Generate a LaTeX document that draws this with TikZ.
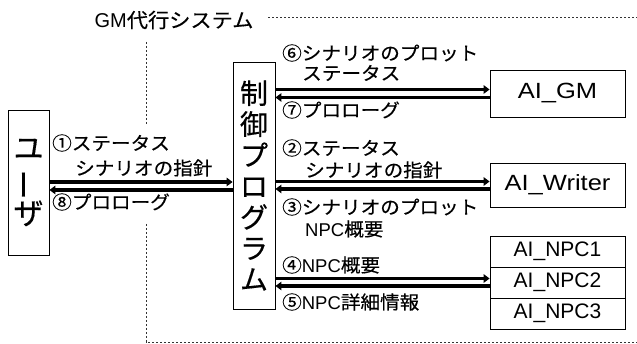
\documentclass[tikz,border=0pt]{standalone}
\usepackage{fontspec}
\usepackage{graphicx}
\setmainfont{Liberation Sans}
\newfontfamily\jp[FakeStretch=1.06,FakeBold=0.4]{Noto Sans CJK JP}
\newfontfamily\jpbig[FakeBold=0.4]{Noto Sans CJK JP}
\newfontfamily\ai[FakeStretch=1.16]{Liberation Sans}
\newcommand{\lat}[1]{{\fontspec{Liberation Sans}#1}}
\usetikzlibrary{arrows.meta}
\begin{document}
\begin{tikzpicture}[x=1pt,y=-1pt,
  box/.style={draw, line width=0.9pt, inner sep=0pt},
  arr/.style={line width=3.6pt, -{Triangle[length=6pt,width=8.5pt]}},
  lab/.style={anchor=west, inner sep=0pt, font=\jp\fontsize{18.5}{22}\selectfont},
  dsh/.style={line width=0.7pt, dash pattern=on 2.2pt off 1.8pt, black!80},
  aitxt/.style={font=\ai\fontsize{22}{26}\selectfont},
  npctxt/.style={font=\fontsize{21}{25}\selectfont}]
\useasboundingbox (0,0) rectangle (637,344);
% system boundary
\node[inner sep=0pt, font=\jp\fontsize{20}{24}\selectfont] (title) at (174,20) {\lat{GM}代行システム};
\draw[dsh] (268,17) -- (637,17);
\draw[dsh] (146,42) -- (146,125);
\draw[dsh] (146,224) -- (146,342) -- (637,342);
% boxes
\node[box, minimum width=41pt, minimum height=145pt, align=center,
  font=\jpbig\fontsize{30}{32}\selectfont] (user) at (28.5,182.5)
  {ユ\\\rotatebox[origin=c]{90}{ー}\\ザ};
\node[box, minimum width=42pt, minimum height=247pt, align=center,
  font=\jpbig\fontsize{28}{31}\selectfont] (ctrl) at (254,185.5)
  {制\\御\\プ\\ロ\\グ\\ラ\\ム};
\node[box, minimum width=135pt, minimum height=47pt, aitxt] (gm) at (557.5,93.5) {AI\_GM};
\node[box, minimum width=135pt, minimum height=44pt, aitxt] (writer) at (557.5,185) {AI\_Writer};
\node[box, minimum width=135pt, minimum height=31pt, npctxt] (npc1) at (557.5,251.5) {AI\_NPC1};
\node[box, minimum width=135pt, minimum height=31pt, npctxt] (npc2) at (557.5,282.5) {AI\_NPC2};
\node[box, minimum width=135pt, minimum height=31pt, npctxt] (npc3) at (557.5,313.5) {AI\_NPC3};
% arrows
\draw[arr] (ctrl.east |- 0,89.5) -- (gm.west |- 0,89.5);
\draw[arr] (gm.west |- 0,97.5) -- (ctrl.east |- 0,97.5);
\draw[arr] (user.east |- 0,182) -- (ctrl.west |- 0,182);
\draw[arr] (ctrl.west |- 0,190) -- (user.east |- 0,190);
\draw[arr] (ctrl.east |- 0,181.5) -- (writer.west |- 0,181.5);
\draw[arr] (writer.west |- 0,189) -- (ctrl.east |- 0,189);
\draw[arr] (ctrl.east |- 0,278.5) -- (npc2.west |- 0,278.5);
\draw[arr] (npc2.west |- 0,286) -- (ctrl.east |- 0,286);
% labels
\node[lab] (l6a) at (282,53) {⑥シナリオのプロット};
\node[lab] (l6b) at (302,73) {ステータス};
\node[lab] (l7) at (282,110) {⑦プロローグ};
\node[lab] (l2a) at (282,148) {②ステータス};
\node[lab] (l2b) at (305,170) {シナリオの指針};
\node[lab] (l3a) at (282,207) {③シナリオのプロット};
\node[lab] (l3b) at (305,229) {\lat{NPC}概要};
\node[lab] (l4) at (282,265) {④\lat{NPC}概要};
\node[lab] (l5) at (282,302) {⑤\lat{NPC}詳細情報};
\node[lab] (l1a) at (52,143) {①ステータス};
\node[lab] (l1b) at (75,168) {シナリオの指針};
\node[lab] (l8) at (52,202) {⑧プロローグ};
\end{tikzpicture}
\end{document}
